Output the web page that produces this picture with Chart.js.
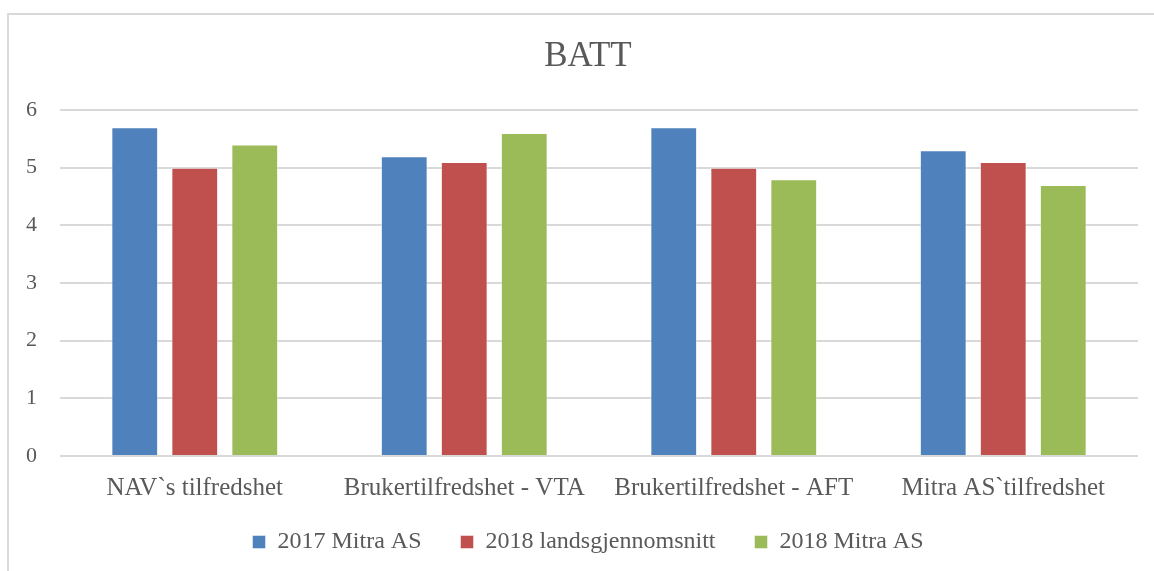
<!DOCTYPE html>
<html>
<head>
<meta charset="utf-8">
<script src="https://cdn.jsdelivr.net/npm/chart.js@4/dist/chart.umd.min.js"></script>
<style>
  html, body { margin: 0; padding: 0; background: #fff; overflow: hidden; }
  #frame {
    position: absolute; left: 7px; top: 13px;
    width: 1160px; height: 560px;
    border: 2px solid #d9d9d9;
  }
  #frame canvas { display: block; }
</style>
</head>
<body>
<div id="frame"><canvas id="battChart" width="1160" height="560"></canvas></div>
<script>
// categories and series
var categories = ["NAV`s tilfredshet", "Brukertilfredshet - VTA", "Brukertilfredshet - AFT", "Mitra AS`tilfredshet"];
var mitra2017 = [5.7, 5.2, 5.7, 5.3];
var landsSnitt2018 = [5.0, 5.1, 5.0, 5.1];
var mitra2018 = [5.4, 5.6, 4.8, 4.7];
var yTicks = [0, 1, 2, 3, 4, 5, 6];

var fontName = "'Liberation Serif', 'DejaVu Serif', serif";
var textGrey = '#595959';

var ctx = document.getElementById('battChart').getContext('2d');
var battChart = new Chart(ctx, {
    type: 'bar',
    data: {
        labels: categories,
        datasets: [{
            label: "2017 Mitra AS",
            data: mitra2017,
            backgroundColor: '#4f81bd',
            borderColor: 'rgba(255,255,255,0.45)',
            borderWidth: 1
        }, {
            label: "2018 landsgjennomsnitt",
            data: landsSnitt2018,
            backgroundColor: '#c0504d',
            borderColor: 'rgba(255,255,255,0.45)',
            borderWidth: 1
        }, {
            label: "2018 Mitra AS",
            data: mitra2018,
            backgroundColor: '#9bbb59',
            borderColor: 'rgba(255,255,255,0.45)',
            borderWidth: 1
        }]
    },
    options: {
        responsive: false,
        animation: false,
        categoryPercentage: 0.668,
        barPercentage: 0.78,
        layout: { padding: { left: 29, right: 31, top: 0, bottom: 11 } },
        plugins: {
            title: {
                display: true,
                text: "BATT",
                color: textGrey,
                font: { family: fontName, size: 35, weight: 'normal' },
                padding: { top: 21, bottom: 32 }
            },
            legend: {
                position: 'bottom',
                labels: {
                    color: textGrey,
                    font: { family: fontName, size: 24 },
                    boxWidth: 13,
                    boxHeight: 13,
                    padding: 39
                }
            },
            tooltip: { enabled: false }
        },
        scales: {
            x: {
                afterFit: function (scale) { scale.height = 35; },
                grid: { display: false, drawTicks: false },
                border: { display: false },
                ticks: {
                    color: textGrey,
                    font: { family: fontName, size: 25 },
                    mirror: true,
                    padding: -47,
                    maxRotation: 0
                }
            },
            y: {
                min: 0,
                max: 6,
                afterFit: function (scale) { scale.width = 22; },
                afterBuildTicks: function (scale) {
                    scale.ticks = yTicks.map(function (v) { return { value: v }; });
                },
                grid: { color: '#d9d9d9', lineWidth: 2, drawTicks: false },
                border: { display: false },
                ticks: {
                    color: textGrey,
                    font: { family: fontName, size: 22 },
                    mirror: true,
                    padding: -34
                }
            }
        }
    }
});
</script>
</body>
</html>
